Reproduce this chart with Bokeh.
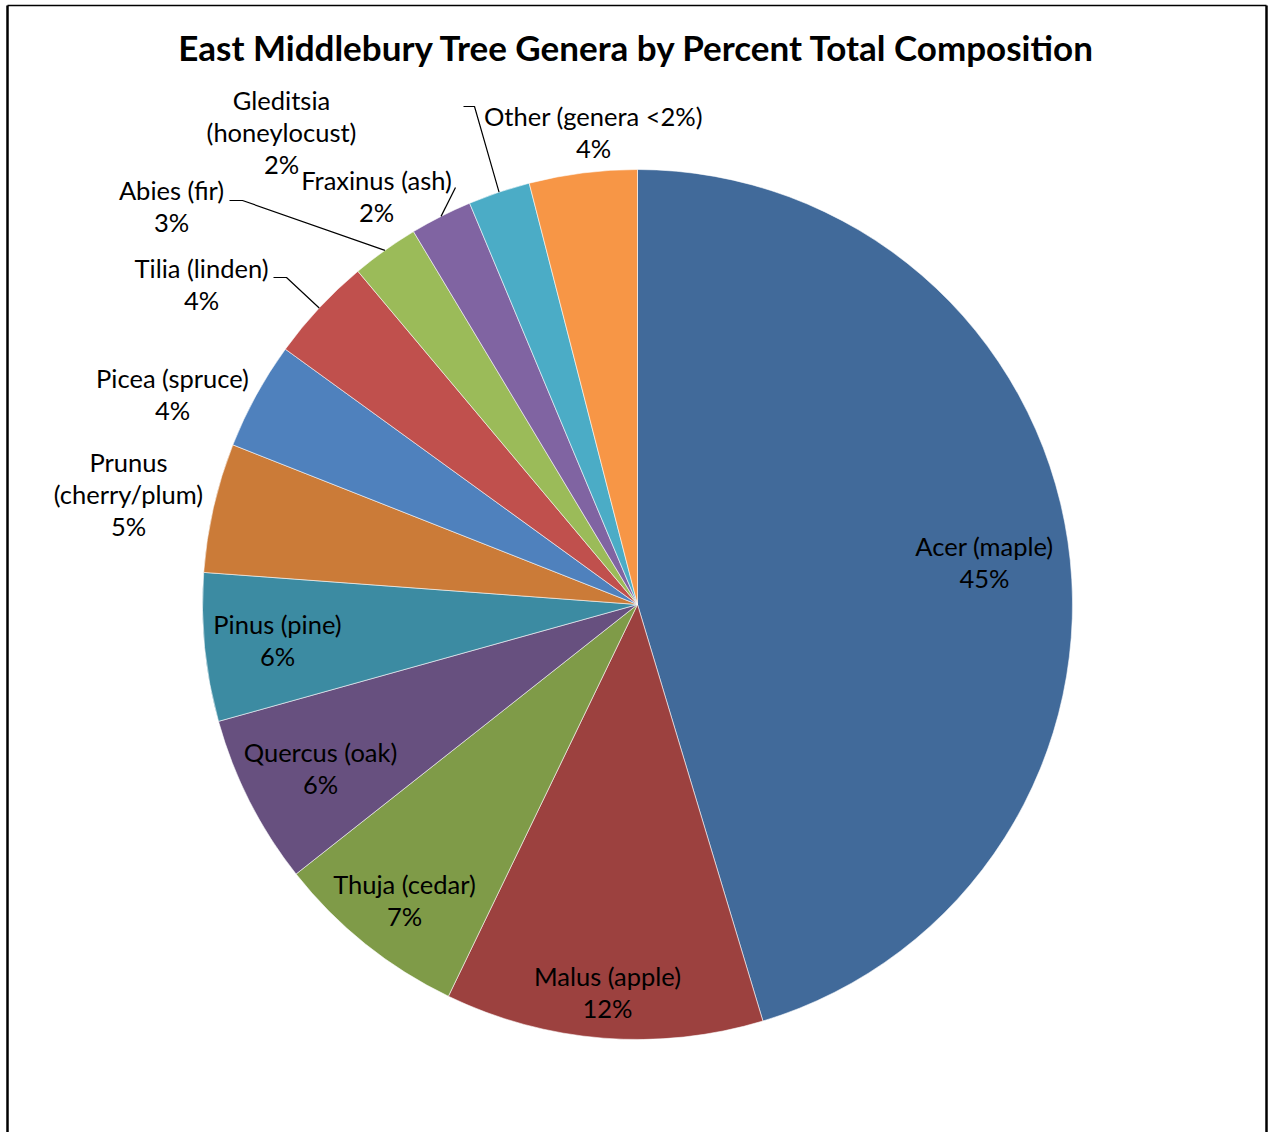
import numpy as np
from bokeh.plotting import figure
from bokeh.models import Range1d, ColumnDataSource
from bokeh.core.properties import value
from bokeh.embed import file_html
from bokeh.resources import INLINE

# ---------------- data ----------------
title = "East Middlebury Tree Genera by Percent Total Composition"
genera = ["Acer (maple)", "Malus (apple)", "Thuja (cedar)", "Quercus (oak)",
          "Pinus (pine)", "Prunus (cherry/plum)", "Picea (spruce)", "Tilia (linden)",
          "Abies (fir)", "Fraxinus (ash)", "Gleditsia (honeylocust)", "Other (genera <2%)"]
percent = [45.3, 11.8, 7.2, 6.3, 5.5, 4.8, 4.0, 3.9, 2.5, 2.3, 2.3, 4.0]
percent_labels = ["45%", "12%", "7%", "6%", "6%", "5%", "4%", "4%", "3%", "2%", "2%", "4%"]
colors = ["#416A9A", "#9C413F", "#7F9B48", "#67507F", "#3C8BA2", "#CB7B38",
          "#4F81BD", "#C0504D", "#9BBB59", "#8064A2", "#4BACC6", "#F79646"]

# ---------------- layout (picture pixel coordinates) ----------------
W, H = 1268, 1132
def py(img_y):
    return H - img_y

TEXT_DY = -3  # font baseline correction
CX, CY, R = 637, py(604), 435
label_pos = [(984, 548), (607, 978), (404, 886), (320, 754), (277, 626), (128, 464),
             (172, 380), (201, 270), (171, 192), (376, 182), (281, 102), (593, 118)]
wrapped = {"Prunus (cherry/plum)": ["Prunus", "(cherry/plum)"],
           "Gleditsia (honeylocust)": ["Gleditsia", "(honeylocust)"]}
LINE_STEP = 32.3
leaders = [([(229, 200), (242, 200)], 8),
           ([(273, 277), (286, 277)], 7),
           ([(455, 187)], 9),
           ([(463, 106), (474, 106)], 10)]

p = figure(width=W, height=H, output_backend="svg", toolbar_location=None,
           x_range=Range1d(0, W), y_range=Range1d(0, H),
           x_axis_type=None, y_axis_type=None, min_border=0)
p.grid.visible = False
p.outline_line_color = None
p.background_fill_color = "white"
p.border_fill_color = "white"

# ---------------- pie ----------------
vals = np.array(percent, dtype=float)
frac = vals / vals.sum()
cum_end = np.cumsum(frac)
cum_start = cum_end - frac
start = np.pi / 2 - 2 * np.pi * cum_start
end = np.pi / 2 - 2 * np.pi * cum_end
mid = np.pi / 2 - 2 * np.pi * (cum_start + frac / 2)

src = ColumnDataSource(dict(start=start, end=end, color=colors, name=genera))
p.wedge(x=CX, y=CY, radius=R, start_angle="start", end_angle="end", direction="clock",
        fill_color="color", line_color="white", line_width=0.8, line_alpha=0.7, source=src)

# ---------------- labels ----------------
tx, ty, tt = [], [], []
for name, pct, (lx, ly) in zip(genera, percent_labels, label_pos):
    lines = wrapped.get(name, [name]) + [pct]
    for i, ln in enumerate(lines):
        tx.append(lx)
        ty.append(py(ly + i * LINE_STEP + TEXT_DY))
        tt.append(ln)
p.text(x=tx, y=ty, text=tt, text_font=value("Lato"), text_font_size="25.5px",
       text_align="center", text_baseline="middle", text_color="black")

for pts, idx in leaders:
    xs = [a for a, b in pts] + [CX + R * np.cos(mid[idx])]
    ys = [py(b) for a, b in pts] + [CY + R * np.sin(mid[idx])]
    p.line(xs, ys, line_color="black", line_width=1.2)

p.text(x=[637], y=[py(49 + TEXT_DY)], text=[title], text_font=value("Lato"),
       text_font_size="35px", text_font_style="bold",
       text_align="center", text_baseline="middle", text_color="black")

# chart-area frame (open at the bottom)
p.line([7, 7], [0, py(5)], line_color="black", line_width=2.5)
p.line([7, 1266], [py(5), py(5)], line_color="black", line_width=1.5)
p.line([1266, 1266], [0, py(5)], line_color="black", line_width=2.5)

open("out.html", "w").write(file_html(p, INLINE))
